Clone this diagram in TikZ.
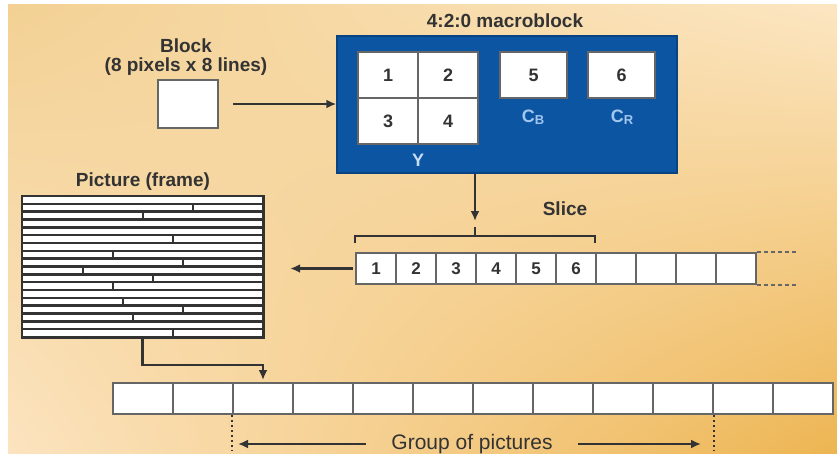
\documentclass[tikz,border=0pt]{standalone}
\usepackage{fontspec}
\setmainfont{Liberation Sans}
\usepackage{tikz}
\usetikzlibrary{positioning,shadings,arrows.meta}
\definecolor{mbblue}{HTML}{0B55A2}
\definecolor{inkgray}{HTML}{333333}
\definecolor{boxgray}{HTML}{666666}
\definecolor{cblue}{HTML}{A3C6EE}
\definecolor{bgA}{HTML}{F3D194}
\definecolor{bgB}{HTML}{FCE6C2}
\definecolor{bgC}{HTML}{FCE4C0}
\definecolor{bgD}{HTML}{EDB552}

\begin{document}
\begin{tikzpicture}[x=1pt,y=-1pt,
    cell/.style={draw=boxgray,line width=2pt,fill=white,inner sep=0pt},
    arr/.style={-{Latex[length=10pt,width=9pt]},line width=2.4pt,draw=inkgray},
    lbl/.style={text=inkgray,font=\bfseries\fontsize{19}{22}\selectfont},
    num/.style={text=inkgray,font=\bfseries\fontsize{18}{20}\selectfont}]
        % 背景
        \useasboundingbox (0,0) rectangle (837,453);
        \fill[white] (0,0) rectangle (837,453);
        \shade[upper left=bgA,upper right=bgB,lower left=bgC,lower right=bgD] (8,4) rectangle (837,453);

        % 块 (8x8)
        \node[lbl,align=center] (blklbl) at (186,57) {Block\\[-3pt](8 pixels x 8 lines)};
        \node[cell,minimum width=60pt,minimum height=48pt] (blk) at (188,104) {};

        % 4:2:0 宏块
        \node[fill=mbblue,draw=mbblue!80!black,line width=1.5pt,minimum width=340pt,minimum height=137pt] (mb) at (507,104.5) {};
        \node[lbl] (mblbl) at (505,21) {4:2:0 macroblock};
        \node[cell,num,minimum width=60pt,minimum height=46pt] (y1) at (388,75) {1};
        \node[cell,num,minimum width=60pt,minimum height=46pt] (y2) at (448,75) {2};
        \node[cell,num,minimum width=60pt,minimum height=46pt] (y3) at (388,121) {3};
        \node[cell,num,minimum width=60pt,minimum height=46pt] (y4) at (448,121) {4};
        \node[cell,num,minimum width=67pt,minimum height=46pt] (c5) at (533.5,75) {5};
        \node[cell,num,minimum width=67pt,minimum height=46pt] (c6) at (621.5,75) {6};
        \node[text=cblue!60!white,font=\bfseries\fontsize{18}{20}\selectfont] (ylbl) at (418,160) {Y};
        \node[text=cblue,font=\bfseries\fontsize{18}{20}\selectfont] (cblbl) at (533,117) {C\raisebox{-1.5pt}{\fontsize{13}{13}\selectfont B}};
        \node[text=cblue,font=\bfseries\fontsize{18}{20}\selectfont] (crlbl) at (622,117) {C\raisebox{-1.5pt}{\fontsize{13}{13}\selectfont R}};

        \draw[arr,shorten <=14pt] (blk.east) -- (blk.east -| mb.west);

        % 条带
        \foreach \i in {1,...,10} {
            \node[cell,minimum width=40pt,minimum height=31pt] (s\i) at (376+40*\i-40,268.5) {};
        }
        \foreach \i in {1,...,6} { \node[num,font=\bfseries\fontsize{17}{19}\selectfont] at (s\i) {\i}; }
        \draw[boxgray,line width=1.3pt,dash pattern=on 4pt off 3pt] (s10.north east) -- ++(40,0);
        \draw[boxgray,line width=1.3pt,dash pattern=on 4pt off 3pt] (s10.south east) -- ++(40,0);
        \node[lbl] (slbl) at (565,209) {Slice};

        % 括号
        \coordinate (brk) at (475,236);
        \coordinate (brtip) at (475,221);
        \draw[inkgray,line width=2.2pt] (355,243) -- (355,236) -- (595,236) -- (595,243);
        \draw[inkgray,line width=2.2pt] (brk) -- ++(0,-9);
        \draw[arr] (mb.south -| brk) -- (brtip);

        % 图像 (帧)
        \node[lbl] (piclbl) at (143,182) {Picture (frame)};
        \node[fill=white,minimum width=241pt,minimum height=141pt,inner sep=0pt] (pic) at (142.5,266.5) {};
        \foreach \k in {0,...,18} {
            \draw[inkgray,line width=2.6pt] (22,196+\k*141/18) -- (263,196+\k*141/18);
        }
        \draw[inkgray,line width=2.6pt] (pic.north west) rectangle (pic.south east);
        \foreach \b/\tx in {2/193,3/143,6/173,8/113,9/183,10/83,11/153,12/113,14/123,15/183,16/133,18/173} {
            \draw[inkgray,line width=2.6pt] (\tx,196+\b*141/18-141/18) -- (\tx,196+\b*141/18);
        }
        \draw[arr,shorten <=2pt,shorten >=27pt] (s1.west) -- (s1.west -| pic.east);

        % 图像组
        \foreach \i in {1,...,12} {
            \node[cell,minimum width=60pt,minimum height=31pt] (g\i) at (143+60*\i-60,398.5) {};
        }
        \draw[arr] (pic.south) -- ++(0,28) -| ([yshift=2pt]g3.north);
        \draw[inkgray,line width=2pt,dash pattern=on 2pt off 3pt] (g3.south west) -- ++(0,36);
        \draw[inkgray,line width=2pt,dash pattern=on 2pt off 3pt] (g10.south east) -- ++(0,36);
        \node[text=inkgray,font=\fontsize{21}{24}\selectfont] (goplbl) at (472,444) {Group of pictures};
        \draw[arr,shorten <=22pt,shorten >=6pt] (goplbl.west) -- (goplbl.west -| g3.south west);
        \draw[arr,shorten <=22pt,shorten >=13pt] (goplbl.east) -- (goplbl.east -| g10.south east);
    \end{tikzpicture}
\end{document}
